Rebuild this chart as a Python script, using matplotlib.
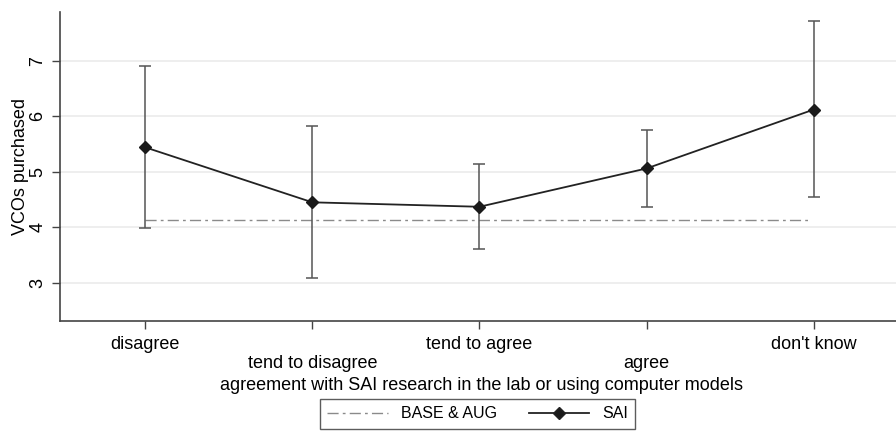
import matplotlib
matplotlib.use('Agg')
import matplotlib.pyplot as plt
from matplotlib.lines import Line2D

plt.rcParams['font.family'] = ['Liberation Sans', 'DejaVu Sans']

categories = ['disagree', 'tend to disagree', 'tend to agree', 'agree', "don't know"]
sai_mean = [5.44, 4.45, 4.37, 5.06, 6.12]
sai_lo = [3.98, 3.09, 3.61, 4.37, 4.55]
sai_hi = [6.91, 5.83, 5.14, 5.76, 7.71]
base_aug = 4.13

xs = list(range(1, len(categories) + 1))

fig = plt.figure(figsize=(8.96, 4.37), dpi=100)
ax = fig.add_axes([0.067, 0.265, 0.94, 0.708])

for y in [3, 4, 5, 6, 7]:
    ax.axhline(y, color='#ebebeb', lw=1.2, zorder=0)

ax.plot([1, 4.97], [base_aug, base_aug], color='#8a8a8a', lw=1.0,
        dashes=(8, 3, 2, 3), zorder=1)

yerr = [[m - l for m, l in zip(sai_mean, sai_lo)], [h - m for m, h in zip(sai_mean, sai_hi)]]
ax.errorbar(xs, sai_mean, yerr=yerr, fmt='none', ecolor='#555555', elinewidth=1.1,
            capsize=4, capthick=1.1, zorder=2)
ax.plot(xs, sai_mean, color='#222222', lw=1.3, marker='D', markersize=6.5,
        markerfacecolor='#1a1a1a', markeredgecolor='#1a1a1a', zorder=3)

ax.set_xlim(0.49, 5.53)
ax.set_ylim(2.31, 7.88)
ax.set_yticks([3, 4, 5, 6, 7])
ax.set_yticklabels(['3', '4', '5', '6', '7'], rotation=90, va='center')
ax.set_xticks(xs)
ax.set_xticklabels([c if i % 2 == 0 else '\n' + c for i, c in enumerate(categories)],
                   linespacing=1.15)
ax.tick_params(axis='both', labelsize=13, color='#444444', length=6, width=1.0)
ax.tick_params(axis='x', pad=5)
ax.tick_params(axis='y', pad=4)

for s in ['top', 'right']:
    ax.spines[s].set_visible(False)
for s in ['left', 'bottom']:
    ax.spines[s].set_color('#444444')
    ax.spines[s].set_linewidth(1.2)

ax.set_ylabel('VCOs purchased', fontsize=13, labelpad=0)
ax.set_xlabel('agreement with SAI research in the lab or using computer models', fontsize=13, labelpad=3)

handles = [Line2D([], [], color='#8a8a8a', lw=1.0, dashes=(8, 3, 2, 3)),
           Line2D([], [], color='#222222', lw=1.3, marker='D', markersize=6.5,
                  markerfacecolor='#1a1a1a')]
leg = fig.legend(handles, ['BASE & AUG', 'SAI'], loc='center', bbox_to_anchor=(0.533, 0.053),
                 ncol=2, fontsize=11.5, frameon=True, fancybox=False, handlelength=3.8,
                 columnspacing=2.0, borderpad=0.45, handletextpad=0.8)
leg.get_frame().set_edgecolor('#333333')
leg.get_frame().set_linewidth(1.0)

fig.savefig('out.png', dpi=100)
